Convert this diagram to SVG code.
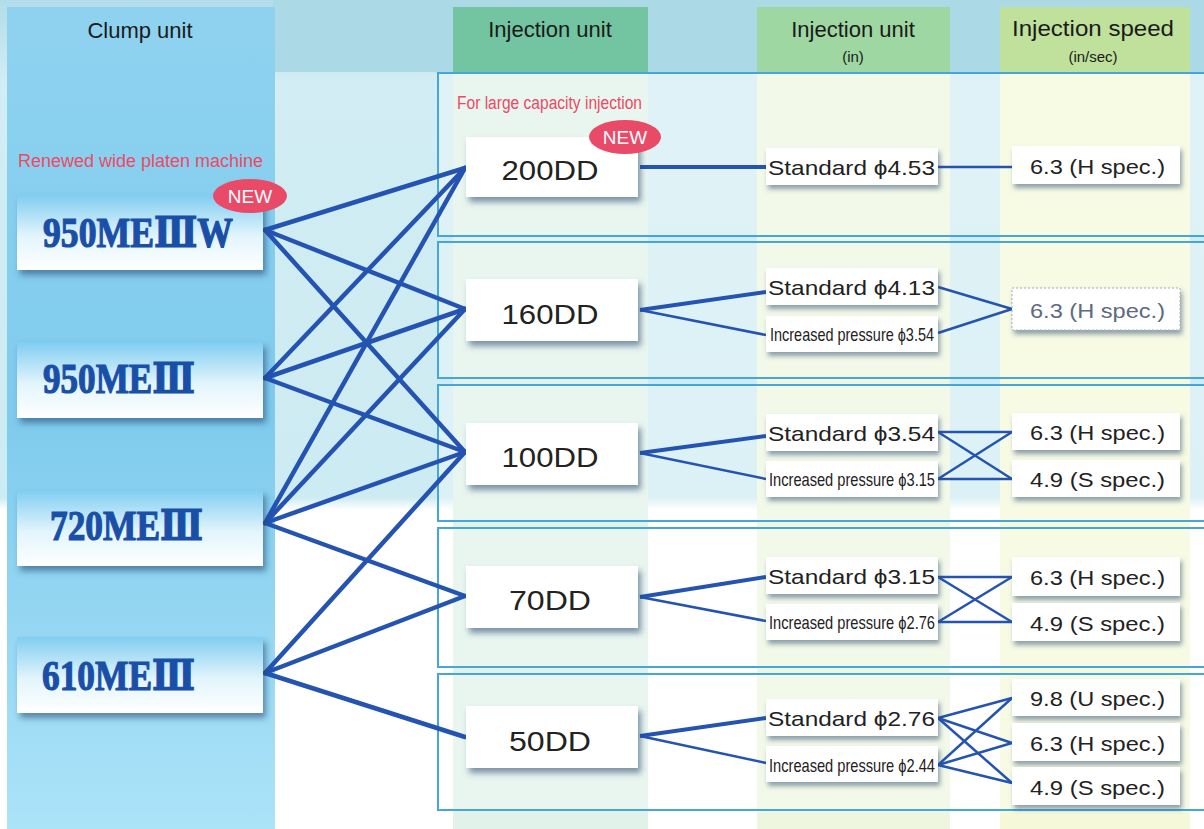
<svg xmlns="http://www.w3.org/2000/svg" width="1204" height="829" viewBox="0 0 1204 829">
<defs>
<linearGradient id="sky" x1="0" y1="0" x2="0" y2="1">
<stop offset="0" stop-color="#b3dcea"/>
<stop offset="0.1" stop-color="#d2edf4"/>
<stop offset="0.6" stop-color="#cdebf2"/>
<stop offset="0.615" stop-color="#ffffff"/>
<stop offset="1" stop-color="#ffffff"/>
</linearGradient>
<linearGradient id="band" x1="0" y1="0" x2="0" y2="1">
<stop offset="0" stop-color="#8fd2f0"/>
<stop offset="0.5" stop-color="#7fcbed"/>
<stop offset="1" stop-color="#abe3f8"/>
</linearGradient>
<linearGradient id="clamp" x1="0" y1="0" x2="0" y2="1">
<stop offset="0" stop-color="#80cdf1"/>
<stop offset="0.55" stop-color="#e2f5fc"/>
<stop offset="1" stop-color="#ffffff"/>
</linearGradient>
<filter id="sh" x="-10%" y="-20%" width="125%" height="160%">
<feDropShadow dx="3" dy="5" stdDeviation="3" flood-color="#1d3f6a" flood-opacity="0.55"/>
</filter>
<filter id="sh2" x="-10%" y="-20%" width="125%" height="160%">
<feDropShadow dx="2" dy="4" stdDeviation="2.5" flood-color="#1d3f6a" flood-opacity="0.5"/>
</filter>
</defs>
<style>
.hdr{font-family:"Liberation Sans",Arial,sans-serif;font-size:22px;fill:#1a1a1a;text-anchor:middle}
.sub{font-family:"Liberation Sans",Arial,sans-serif;font-size:15px;fill:#1a1a1a;text-anchor:middle}
.pink{font-family:"Liberation Sans Narrow","Liberation Sans",sans-serif;font-size:18px;fill:#ec4a64}
.clampbox{fill:url(#clamp);filter:url(#sh)}
.clamptxt{font-family:"Liberation Serif","DejaVu Serif",serif;font-weight:bold;font-size:42px;fill:#1a4fa8;stroke:#1a4fa8;stroke-width:1.2}
.box{fill:#ffffff;filter:url(#sh)}
.sbox{fill:#ffffff;filter:url(#sh2)}
.inj{font-family:"Liberation Sans",Arial,sans-serif;font-size:28px;fill:#222;text-anchor:middle}
.std{font-family:"Liberation Sans",Arial,sans-serif;font-size:21px;fill:#222}
.inc{font-family:"Liberation Sans Narrow","Liberation Sans",sans-serif;font-size:19px;fill:#222}
.spd{font-family:"Liberation Sans",Arial,sans-serif;font-size:21px;fill:#222}
.badge{fill:#e94a68}
.new{font-family:"Liberation Sans",Arial,sans-serif;font-size:19px;fill:#fff;text-anchor:middle}
.panel{fill:#ffffff;fill-opacity:0.3;stroke:#45a6dc;stroke-width:2}
.c1{stroke:#2453b2;stroke-width:4.5;fill:none;stroke-linecap:round}
.c2{stroke:#2453b2;stroke-width:4;fill:none}
.c3{stroke:#2453b2;stroke-width:2.5;fill:none}
</style>
<!-- background -->
<rect x="0" y="0" width="1204" height="829" fill="url(#sky)"/>
<rect x="273" y="0" width="931" height="72" fill="#acd9e6"/>
<rect x="7" y="7" width="268" height="822" fill="url(#band)"/>
<!-- column bands -->
<rect x="453" y="72" width="195" height="757" fill="#e0f2ea"/>
<rect x="757" y="72" width="193" height="757" fill="#eef6df"/>
<rect x="1000" y="72" width="190" height="757" fill="#f5f9d9"/>
<rect x="453" y="7" width="195" height="65" fill="#72c5a0"/>
<rect x="757" y="7" width="193" height="65" fill="#9fd7a2"/>
<rect x="1000" y="7" width="190" height="65" fill="#bfe19c"/>
<!-- panels -->
<rect class="panel" x="438" y="73" width="780" height="163"/>
<rect class="panel" x="438" y="242" width="780" height="136"/>
<rect class="panel" x="438" y="385" width="780" height="136"/>
<rect class="panel" x="438" y="528" width="780" height="139"/>
<rect class="panel" x="438" y="674" width="780" height="136"/>
<!-- headers -->
<g id="headers">
<text class="hdr" x="140" y="38">Clump unit</text>
<text class="hdr" x="550" y="37">Injection unit</text>
<text class="hdr" x="853" y="37">Injection unit</text>
<text class="sub" x="853" y="62">(in)</text>
<text class="hdr" x="1093" y="36" textLength="162" lengthAdjust="spacingAndGlyphs">Injection speed</text>
<text class="sub" x="1093" y="62">(in/sec)</text>
<text class="pink" x="18" y="167" textLength="245" lengthAdjust="spacingAndGlyphs">Renewed wide platen machine</text>
<text class="pink" x="457" y="109" textLength="185" lengthAdjust="spacingAndGlyphs">For large capacity injection</text>
</g>
<!-- connectors -->
<g id="connectors">
<line class="c1" x1="265" y1="230" x2="465" y2="168"/>
<line class="c1" x1="265" y1="230" x2="465" y2="309"/>
<line class="c1" x1="265" y1="230" x2="465" y2="452"/>
<line class="c1" x1="265" y1="378" x2="465" y2="168"/>
<line class="c1" x1="265" y1="378" x2="465" y2="309"/>
<line class="c1" x1="265" y1="378" x2="465" y2="452"/>
<line class="c1" x1="265" y1="523" x2="465" y2="168"/>
<line class="c1" x1="265" y1="523" x2="465" y2="309"/>
<line class="c1" x1="265" y1="523" x2="465" y2="452"/>
<line class="c1" x1="265" y1="523" x2="465" y2="596"/>
<line class="c1" x1="265" y1="673" x2="465" y2="452"/>
<line class="c1" x1="265" y1="673" x2="465" y2="596"/>
<line class="c1" x1="265" y1="673" x2="465" y2="737"/>
<!-- injection to diameter -->
<line class="c2" x1="640" y1="167" x2="766" y2="167"/>
<line class="c2" x1="640" y1="310" x2="766" y2="292"/>
<line class="c3" x1="640" y1="310" x2="766" y2="335"/>
<line class="c2" x1="640" y1="453" x2="766" y2="436"/>
<line class="c3" x1="640" y1="453" x2="766" y2="479"/>
<line class="c2" x1="640" y1="597" x2="766" y2="577"/>
<line class="c3" x1="640" y1="597" x2="766" y2="621"/>
<line class="c2" x1="640" y1="736" x2="766" y2="718"/>
<line class="c3" x1="640" y1="736" x2="766" y2="763"/>
<!-- diameter to speed -->
<line class="c3" x1="938" y1="167" x2="1013" y2="167"/>
<line class="c3" x1="938" y1="287" x2="1012" y2="309"/>
<line class="c3" x1="938" y1="333" x2="1012" y2="309"/>
<line class="c3" x1="938" y1="432" x2="1012" y2="432"/>
<line class="c3" x1="938" y1="432" x2="1012" y2="479"/>
<line class="c3" x1="938" y1="479" x2="1012" y2="432"/>
<line class="c3" x1="938" y1="479" x2="1012" y2="479"/>
<line class="c3" x1="938" y1="577" x2="1012" y2="577"/>
<line class="c3" x1="938" y1="577" x2="1012" y2="622"/>
<line class="c3" x1="938" y1="622" x2="1012" y2="577"/>
<line class="c3" x1="938" y1="622" x2="1012" y2="622"/>
<line class="c3" x1="938" y1="718" x2="1012" y2="698"/>
<line class="c3" x1="938" y1="718" x2="1012" y2="743"/>
<line class="c3" x1="938" y1="718" x2="1012" y2="783"/>
<line class="c3" x1="938" y1="765" x2="1012" y2="698"/>
<line class="c3" x1="938" y1="765" x2="1012" y2="743"/>
<line class="c3" x1="938" y1="765" x2="1012" y2="783"/>
</g>
<!-- clamp units -->
<g id="c950w">
<rect class="clampbox" x="17" y="195" width="246" height="75"/>
<text class="clamptxt" x="43" y="247" textLength="190" lengthAdjust="spacingAndGlyphs">950MEⅢW</text>
<ellipse class="badge" cx="250" cy="196" rx="37" ry="17"/>
<text class="new" x="250" y="203">NEW</text>
</g>
<g id="c950">
<rect class="clampbox" x="17" y="342" width="246" height="76"/>
<text class="clamptxt" x="43" y="393" textLength="152" lengthAdjust="spacingAndGlyphs">950MEⅢ</text>
</g>
<g id="c720">
<rect class="clampbox" x="17" y="490" width="246" height="76"/>
<text class="clamptxt" x="50" y="540" textLength="153" lengthAdjust="spacingAndGlyphs">720MEⅢ</text>
</g>
<g id="c610">
<rect class="clampbox" x="17" y="637" width="246" height="76"/>
<text class="clamptxt" x="42" y="690" textLength="153" lengthAdjust="spacingAndGlyphs">610MEⅢ</text>
</g>
<!-- injection units -->
<g id="i200">
<rect class="box" x="466" y="137" width="172" height="60"/>
<text class="inj" x="550" y="180" textLength="97" lengthAdjust="spacingAndGlyphs">200DD</text>
<ellipse class="badge" cx="625" cy="137" rx="36" ry="17"/>
<text class="new" x="625" y="144">NEW</text>
</g>
<g id="i160">
<rect class="box" x="466" y="279" width="172" height="62"/>
<text class="inj" x="550" y="324" textLength="97" lengthAdjust="spacingAndGlyphs">160DD</text>
</g>
<g id="i100">
<rect class="box" x="466" y="423" width="172" height="62"/>
<text class="inj" x="550" y="467" textLength="97" lengthAdjust="spacingAndGlyphs">100DD</text>
</g>
<g id="i70">
<rect class="box" x="466" y="566" width="172" height="62"/>
<text class="inj" x="550" y="610" textLength="82" lengthAdjust="spacingAndGlyphs">70DD</text>
</g>
<g id="i50">
<rect class="box" x="466" y="706" width="172" height="62"/>
<text class="inj" x="550" y="751" textLength="82" lengthAdjust="spacingAndGlyphs">50DD</text>
</g>
<!-- diameters -->
<g id="d1">
<rect class="sbox" x="766" y="148" width="172" height="37"/>
<text class="std" x="768" y="175" textLength="167" lengthAdjust="spacingAndGlyphs">Standard ϕ4.53</text>
</g>
<g id="d2a">
<rect class="sbox" x="766" y="268" width="172" height="37"/>
<text class="std" x="768" y="295" textLength="167" lengthAdjust="spacingAndGlyphs">Standard ϕ4.13</text>
</g>
<g id="d2b">
<rect class="sbox" x="766" y="316" width="172" height="36"/>
<text class="inc" x="770" y="341" textLength="164" lengthAdjust="spacingAndGlyphs">Increased pressure ϕ3.54</text>
</g>
<g id="d3a">
<rect class="sbox" x="766" y="414" width="172" height="37"/>
<text class="std" x="768" y="441" textLength="167" lengthAdjust="spacingAndGlyphs">Standard ϕ3.54</text>
</g>
<g id="d3b">
<rect class="sbox" x="766" y="461" width="172" height="36"/>
<text class="inc" x="769" y="486" textLength="166" lengthAdjust="spacingAndGlyphs">Increased pressure ϕ3.15</text>
</g>
<g id="d4a">
<rect class="sbox" x="766" y="557" width="172" height="37"/>
<text class="std" x="768" y="584" textLength="167" lengthAdjust="spacingAndGlyphs">Standard ϕ3.15</text>
</g>
<g id="d4b">
<rect class="sbox" x="766" y="604" width="172" height="36"/>
<text class="inc" x="769" y="629" textLength="166" lengthAdjust="spacingAndGlyphs">Increased pressure ϕ2.76</text>
</g>
<g id="d5a">
<rect class="sbox" x="766" y="699" width="172" height="37"/>
<text class="std" x="768" y="726" textLength="167" lengthAdjust="spacingAndGlyphs">Standard ϕ2.76</text>
</g>
<g id="d5b">
<rect class="sbox" x="766" y="746" width="172" height="36"/>
<text class="inc" x="769" y="772" textLength="166" lengthAdjust="spacingAndGlyphs">Increased pressure ϕ2.44</text>
</g>
<!-- speeds -->
<g id="s1">
<rect class="sbox" x="1012" y="146" width="168" height="38"/>
<text class="spd" x="1030" y="174" textLength="135" lengthAdjust="spacingAndGlyphs">6.3 (H spec.)</text>
</g>
<g id="s2">
<rect class="sbox" x="1012" y="288" width="168" height="42" stroke="#a4aebc" stroke-width="1" stroke-dasharray="2 2"/>
<text class="spd" x="1030" y="318" textLength="135" lengthAdjust="spacingAndGlyphs" style="fill:#5d6b80">6.3 (H spec.)</text>
</g>
<g id="s3a">
<rect class="sbox" x="1012" y="413" width="168" height="37"/>
<text class="spd" x="1030" y="440" textLength="135" lengthAdjust="spacingAndGlyphs">6.3 (H spec.)</text>
</g>
<g id="s3b">
<rect class="sbox" x="1012" y="460" width="168" height="37"/>
<text class="spd" x="1030" y="487" textLength="135" lengthAdjust="spacingAndGlyphs">4.9 (S spec.)</text>
</g>
<g id="s4a">
<rect class="sbox" x="1012" y="557" width="168" height="39"/>
<text class="spd" x="1030" y="585" textLength="135" lengthAdjust="spacingAndGlyphs">6.3 (H spec.)</text>
</g>
<g id="s4b">
<rect class="sbox" x="1012" y="603" width="168" height="38"/>
<text class="spd" x="1030" y="631" textLength="135" lengthAdjust="spacingAndGlyphs">4.9 (S spec.)</text>
</g>
<g id="s5a">
<rect class="sbox" x="1012" y="679" width="168" height="37"/>
<text class="spd" x="1030" y="706" textLength="135" lengthAdjust="spacingAndGlyphs">9.8 (U spec.)</text>
</g>
<g id="s5b">
<rect class="sbox" x="1012" y="723" width="168" height="38"/>
<text class="spd" x="1030" y="751" textLength="135" lengthAdjust="spacingAndGlyphs">6.3 (H spec.)</text>
</g>
<g id="s5c">
<rect class="sbox" x="1012" y="767" width="168" height="38"/>
<text class="spd" x="1030" y="795" textLength="135" lengthAdjust="spacingAndGlyphs">4.9 (S spec.)</text>
</g>
</svg>
